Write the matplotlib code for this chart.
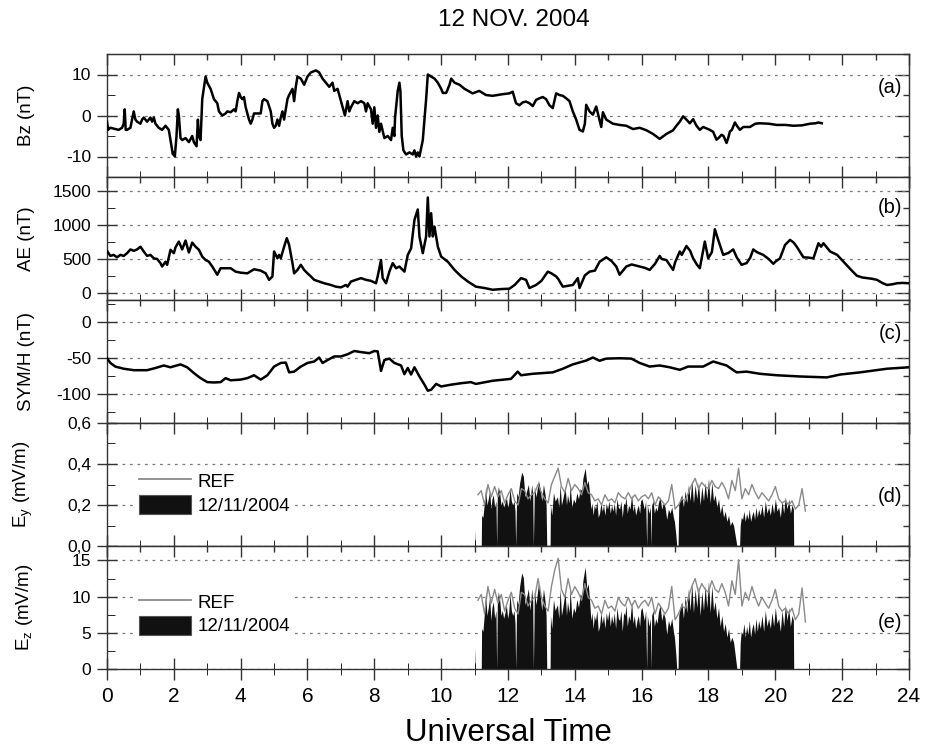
import numpy as np
import matplotlib
matplotlib.use('Agg')
import matplotlib.pyplot as plt
from matplotlib.lines import Line2D
from matplotlib.patches import Patch
from matplotlib.ticker import MultipleLocator, NullFormatter

plt.rcParams['font.family'] = ['Liberation Sans', 'DejaVu Sans']
plt.rcParams['mathtext.fontset'] = 'custom'
plt.rcParams['mathtext.rm'] = 'Liberation Sans'
plt.rcParams['axes.unicode_minus'] = False

# ---- (a) IMF Bz, nT ----
t_bz = [0.0, 0.03, 0.1, 0.2, 0.35, 0.45, 0.5, 0.53, 0.56, 0.6,
        0.7, 0.8, 0.85, 0.9, 1.0, 1.05, 1.1, 1.2, 1.3, 1.35,
        1.4, 1.45, 1.55, 1.65, 1.75, 1.85, 1.92, 1.97, 2.0, 2.03,
        2.08, 2.12, 2.15, 2.2, 2.25, 2.35, 2.45, 2.55, 2.6, 2.68,
        2.7, 2.72, 2.75, 2.8, 2.85, 2.95, 3.0, 3.1, 3.2, 3.3,
        3.35, 3.45, 3.55, 3.6, 3.7, 3.8, 3.85, 3.9, 3.95, 4.0,
        4.05, 4.1, 4.15, 4.2, 4.25, 4.3, 4.35, 4.4, 4.5, 4.6,
        4.65, 4.7, 4.8, 4.9, 4.95, 5.0, 5.05, 5.1, 5.15, 5.2,
        5.25, 5.3, 5.35, 5.4, 5.45, 5.55, 5.6, 5.65, 5.7, 5.8,
        5.9, 6.0, 6.1, 6.25, 6.35, 6.45, 6.55, 6.65, 6.75, 6.8,
        6.9, 6.95, 7.05, 7.12, 7.2, 7.25, 7.3, 7.4, 7.5, 7.6,
        7.7, 7.75, 7.8, 7.9, 7.95, 8.0, 8.05, 8.1, 8.15, 8.2,
        8.3, 8.4, 8.5, 8.55, 8.6, 8.62, 8.7, 8.75, 8.78, 8.82,
        8.87, 8.95, 9.05, 9.15, 9.2, 9.25, 9.3, 9.35, 9.45, 9.5,
        9.55, 9.6, 9.7, 9.8, 9.9, 10.0, 10.05, 10.15, 10.25, 10.3,
        10.4, 10.55, 10.7, 10.94, 11.14, 11.34, 11.54, 11.84, 12.04, 12.14,
        12.24, 12.34, 12.44, 12.54, 12.64, 12.74, 12.84, 12.94, 13.04, 13.14,
        13.24, 13.34, 13.44, 13.54, 13.64, 13.74, 13.84, 13.94, 14.04, 14.14,
        14.24, 14.30, 14.34, 14.44, 14.54, 14.64, 14.69, 14.79, 14.84, 14.94,
        15.04, 15.14, 15.34, 15.54, 15.74, 15.94, 16.14, 16.34, 16.54, 16.74,
        16.94, 17.04, 17.14, 17.24, 17.34, 17.44, 17.54, 17.64, 17.74, 17.84,
        18.04, 18.14, 18.24, 18.30, 18.39, 18.45, 18.54, 18.59, 18.64, 18.70,
        18.79, 18.85, 18.94, 19.04, 19.24, 19.40, 19.54, 19.80, 20.04, 20.30,
        20.54, 20.80, 21.04, 21.20, 21.29, 21.39]
bz = [-1.5, -3.5, -3.0, -3.2, -3.5, -3.0, -2.0, 1.5, -3.5, -3.5,
      -3.0, 1.0, -1.0, -1.5, -2.0, -1.0, -0.5, -1.5, -0.5, -1.5,
      -0.5, -2.0, -3.0, -3.5, -2.5, -3.5, -7.0, -9.5, -9.0, -10.0,
      -5.0, 1.5, 0.0, -5.5, -6.0, -5.5, -6.5, -5.0, -6.5, -7.5,
      -4.0, -1.0, -5.0, -6.0, 4.0, 9.5, 8.0, 6.5, 4.0, 3.0,
      1.0, 0.0, 0.5, 1.0, 0.8, 1.5, 1.0, 3.5, 5.5, 4.5,
      4.0, 4.5, 2.0, 0.5, -1.0, -2.0, -1.0, 0.5, 0.5, 0.5,
      3.5, 4.0, 3.5, 1.0, -2.0, -3.0, -2.5, -1.0, -2.5, -0.5,
      1.0, -1.0, 1.5, 4.0, 5.0, 6.5, 3.5, 7.0, 9.5, 9.0,
      7.5, 9.5, 10.5, 11.0, 10.5, 9.0, 8.0, 7.0, 8.0, 6.0,
      6.5, 5.0, 2.0, 0.0, 3.5, 1.0, 2.0, 3.5, 3.0, 3.5,
      3.0, 1.0, 3.0, 1.5, -2.0, 2.0, -3.0, 0.0, -4.0, -2.0,
      -5.5, -5.0, -6.0, -3.0, -5.0, -0.5, 6.0, 8.0, 6.0, -5.0,
      -8.5, -9.5, -9.0, -9.5, -8.5, -10.0, -9.0, -10.0, -6.0, -1.0,
      4.0, 10.0, 9.5, 9.0, 8.0, 6.5, 5.5, 5.5, 7.5, 9.0,
      8.0, 7.5, 6.5, 5.4, 6.0, 5.0, 4.8, 5.2, 5.4, 5.8,
      3.0, 2.5, 3.2, 3.4, 3.0, 2.3, 3.8, 4.2, 4.5, 4.0,
      2.5, 1.8, 5.4, 5.0, 4.8, 4.2, 3.5, 1.0, -1.0, -3.5,
      -3.9, -2.0, 2.6, 1.0, 0.2, 2.2, 0.5, -2.8, 0.8, -1.0,
      -1.5, -2.0, -2.3, -2.5, -3.3, -3.0, -3.6, -4.5, -5.7, -4.5,
      -3.6, -2.5, -1.5, -0.2, -1.0, -1.9, -0.9, -2.5, -3.5, -2.8,
      -3.5, -4.0, -5.9, -5.5, -4.7, -5.0, -6.7, -5.5, -3.9, -3.5,
      -1.7, -2.5, -3.5, -2.8, -2.8, -2.0, -1.9, -2.0, -2.3, -2.3,
      -2.5, -2.4, -2.0, -1.9, -1.7, -1.9]

# ---- (b) AE index, nT ----
t_ae = [0.0, 0.1, 0.2, 0.3, 0.4, 0.5, 0.6, 0.7, 0.8, 0.9,
        1.0, 1.1, 1.2, 1.3, 1.4, 1.5, 1.6, 1.65, 1.75, 1.8,
        1.9, 2.0, 2.05, 2.15, 2.25, 2.35, 2.45, 2.55, 2.65, 2.75,
        2.85, 2.95, 3.05, 3.15, 3.3, 3.4, 3.5, 3.7, 3.85, 4.0,
        4.2, 4.4, 4.6, 4.75, 4.85, 4.95, 5.0, 5.1, 5.15, 5.2,
        5.3, 5.38, 5.45, 5.55, 5.6, 5.7, 5.8, 5.9, 6.0, 6.1,
        6.2, 6.35, 6.5, 6.7, 6.85, 7.0, 7.15, 7.2, 7.3, 7.45,
        7.6, 7.75, 7.9, 8.05, 8.1, 8.2, 8.25, 8.35, 8.45, 8.55,
        8.65, 8.75, 8.9, 9.0, 9.1, 9.2, 9.3, 9.35, 9.45, 9.55,
        9.6, 9.65, 9.7, 9.75, 9.8, 9.9, 10.0, 10.2, 10.4, 10.6,
        10.8, 11.04, 11.3, 11.54, 11.8, 12.04, 12.2, 12.39, 12.54, 12.64,
        12.84, 13.0, 13.19, 13.3, 13.44, 13.5, 13.64, 13.94, 14.09, 14.14,
        14.3, 14.44, 14.6, 14.74, 14.94, 15.1, 15.24, 15.34, 15.54, 15.7,
        15.94, 16.1, 16.24, 16.4, 16.54, 16.6, 16.74, 16.94, 17.0, 17.14,
        17.2, 17.34, 17.45, 17.54, 17.65, 17.74, 17.89, 17.99, 18.1, 18.19,
        18.29, 18.44, 18.6, 18.74, 18.85, 18.99, 19.14, 19.25, 19.34, 19.45,
        19.64, 19.8, 19.94, 20.0, 20.14, 20.29, 20.44, 20.55, 20.64, 20.84,
        21.0, 21.14, 21.29, 21.37, 21.44, 21.64, 21.85, 22.04, 22.25, 22.44,
        22.6, 22.74, 22.9, 23.04, 23.2, 23.34, 23.5, 23.64, 23.8, 23.99]
ae = [620, 545, 560, 525, 560, 545, 585, 640, 620, 640,
      680, 610, 545, 560, 510, 500, 440, 390, 460, 415,
      635, 585, 670, 755, 640, 770, 595, 740, 680, 635,
      535, 485, 460, 390, 270, 365, 365, 365, 315, 300,
      290, 350, 330, 290, 195, 245, 610, 510, 560, 510,
      680, 805, 705, 440, 290, 340, 415, 340, 290, 245,
      195, 170, 145, 120, 95, 85, 120, 95, 170, 195,
      220, 195, 180, 145, 245, 485, 220, 145, 315, 440,
      365, 390, 315, 560, 655, 1070, 1225, 830, 585, 830,
      1400, 830, 1170, 830, 975, 680, 535, 460, 340, 245,
      170, 95, 75, 50, 60, 65, 120, 220, 195, 75,
      120, 180, 315, 290, 245, 210, 95, 120, 220, 75,
      260, 315, 330, 460, 525, 470, 390, 270, 390, 420,
      390, 370, 340, 430, 545, 500, 485, 340, 450, 610,
      560, 690, 620, 510, 420, 365, 755, 510, 600, 935,
      780, 560, 590, 640, 520, 415, 440, 520, 640, 600,
      560, 500, 430, 460, 510, 705, 780, 740, 680, 525,
      520, 510, 730, 680, 730, 610, 560, 460, 350, 255,
      230, 220, 210, 195, 150, 120, 130, 145, 150, 145]

# ---- (c) SYM/H, nT ----
t_sym = [0.0, 0.1, 0.25, 0.5, 0.8, 1.2, 1.45, 1.7, 1.9, 2.2,
         2.4, 2.6, 2.8, 3.0, 3.2, 3.4, 3.55, 3.7, 4.0, 4.2,
         4.4, 4.6, 4.8, 5.0, 5.2, 5.35, 5.45, 5.6, 5.8, 6.0,
         6.2, 6.35, 6.45, 6.6, 6.8, 7.0, 7.2, 7.4, 7.6, 7.85,
         8.0, 8.1, 8.2, 8.3, 8.45, 8.6, 8.8, 8.9, 9.0, 9.1,
         9.2, 9.35, 9.5, 9.6, 9.7, 9.85, 10.0, 10.3, 10.6, 10.89,
         11.04, 11.54, 12.09, 12.29, 12.39, 12.74, 13.34, 13.64, 13.94, 14.34,
         14.54, 14.74, 14.94, 15.34, 15.69, 15.94, 16.24, 16.54, 16.84, 17.14,
         17.39, 17.84, 18.14, 18.54, 18.84, 19.14, 19.54, 20.04, 20.74, 21.54,
         21.94, 22.54, 23.34, 23.99]
sym_h = [-50.5, -57, -62, -65, -67, -67, -64, -60.5, -63, -59,
         -63, -71, -78, -83.5, -84, -83.5, -78, -81, -80, -78,
         -74, -80, -74, -62, -57, -56.5, -70, -69, -62, -57,
         -55, -49.5, -57, -53, -48, -48, -45, -40.5, -42, -43.5,
         -40.5, -41, -68, -53, -51, -57, -60.5, -72.5, -64, -73,
         -63, -75.7, -87, -95.4, -94, -86, -89.5, -87, -85, -83.5,
         -86, -81.6, -79, -69, -74, -72, -70, -65, -59, -53.7,
         -49.5, -54, -51, -50.5, -51, -57, -62, -60.5, -63, -66.5,
         -62, -62, -55, -60.5, -70, -69, -72, -74, -75.7, -77,
         -73, -70, -65, -63]

# ---- (d), (e) electric field: 12/11/2004 (filled) and reference day ----
t_fill = [11.00, 11.01, 11.02, 11.20, 11.21, 11.25, 11.30, 11.33, 11.37, 11.41,
          11.45, 11.49, 11.52, 11.56, 11.60, 11.64, 11.66, 11.68, 11.71, 11.75,
          11.79, 11.83, 11.87, 11.91, 11.95, 11.99, 12.02, 12.06, 12.10, 12.14,
          12.18, 12.21, 12.23, 12.26, 12.30, 12.35, 12.41, 12.46, 12.51, 12.56,
          12.61, 12.66, 12.71, 12.74, 12.76, 12.79, 12.84, 12.91, 12.96, 13.01,
          13.06, 13.11, 13.14, 13.16, 13.26, 13.27, 13.31, 13.36, 13.41, 13.48,
          13.52, 13.56, 13.60, 13.64, 13.71, 13.75, 13.78, 13.83, 13.86, 13.91,
          13.96, 14.01, 14.06, 14.11, 14.16, 14.21, 14.24, 14.31, 14.36, 14.40,
          14.44, 14.48, 14.51, 14.55, 14.58, 14.62, 14.66, 14.70, 14.74, 14.78,
          14.82, 14.86, 14.90, 14.94, 14.98, 15.02, 15.06, 15.10, 15.14, 15.18,
          15.22, 15.26, 15.30, 15.34, 15.38, 15.42, 15.46, 15.50, 15.53, 15.57,
          15.61, 15.65, 15.70, 15.74, 15.78, 15.82, 15.86, 15.90, 15.94, 15.97,
          16.01, 16.05, 16.08, 16.12, 16.15, 16.17, 16.22, 16.26, 16.28, 16.30,
          16.34, 16.38, 16.42, 16.46, 16.50, 16.55, 16.60, 16.65, 16.70, 16.75,
          16.80, 16.85, 16.90, 16.95, 16.98, 17.02, 17.05, 17.09, 17.11, 17.15,
          17.20, 17.25, 17.30, 17.35, 17.40, 17.45, 17.50, 17.55, 17.60, 17.65,
          17.70, 17.75, 17.80, 17.85, 17.90, 17.95, 18.00, 18.05, 18.10, 18.15,
          18.20, 18.25, 18.30, 18.35, 18.40, 18.45, 18.50, 18.55, 18.60, 18.65,
          18.70, 18.75, 18.80, 18.85, 18.93, 18.95, 18.98, 19.02, 19.06, 19.10,
          19.14, 19.18, 19.22, 19.26, 19.30, 19.34, 19.38, 19.42, 19.46, 19.50,
          19.55, 19.60, 19.65, 19.70, 19.75, 19.80, 19.85, 19.90, 19.95, 20.00,
          20.05, 20.10, 20.15, 20.20, 20.25, 20.30, 20.35, 20.40, 20.45, 20.50,
          20.54, 20.55]
ey_fill = [0, 0.08, 0, 0, 0.15, 0.14, 0.22, 0.29, 0.20, 0.23,
           0.27, 0.18, 0.23, 0.25, 0.19, 0.22, 0, 0.24, 0.29, 0.26,
           0.20, 0.22, 0.19, 0.21, 0.24, 0.19, 0.21, 0.28, 0.22, 0.20,
           0.22, 0.17, 0, 0.26, 0.24, 0.31, 0.36, 0.34, 0.24, 0.27,
           0.30, 0.22, 0.30, 0.25, 0, 0.29, 0.24, 0.32, 0.28, 0.22,
           0.30, 0.25, 0.20, 0, 0, 0.20, 0.15, 0.26, 0.22, 0.24,
           0.19, 0.30, 0.20, 0.23, 0.29, 0.20, 0.25, 0.21, 0.30, 0.19,
           0.23, 0.21, 0.26, 0.23, 0.28, 0.27, 0.33, 0.38, 0.30, 0.32,
           0.26, 0.18, 0.21, 0.15, 0.20, 0.18, 0.22, 0.14, 0.16, 0.21,
           0.17, 0.20, 0.15, 0.21, 0.18, 0.22, 0.16, 0.20, 0.17, 0.21,
           0.15, 0.23, 0.19, 0.18, 0.22, 0.14, 0.21, 0.20, 0.24, 0.16,
           0.20, 0.18, 0.25, 0.17, 0.20, 0.15, 0.18, 0.20, 0.16, 0.22,
           0.23, 0.20, 0.18, 0.22, 0, 0.20, 0.16, 0.19, 0, 0.20,
           0.22, 0.16, 0.19, 0.17, 0.21, 0.24, 0.18, 0.21, 0.19, 0.13,
           0.18, 0.16, 0.19, 0.14, 0.12, 0.06, 0, 0, 0.20, 0.23,
           0.25, 0.19, 0.27, 0.21, 0.30, 0.22, 0.32, 0.21, 0.30, 0.23,
           0.31, 0.20, 0.29, 0.22, 0.31, 0.23, 0.33, 0.21, 0.31, 0.22,
           0.25, 0.19, 0.23, 0.16, 0.20, 0.14, 0.17, 0.12, 0.15, 0.10,
           0.12, 0.10, 0.05, 0, 0, 0.10, 0.14, 0.13, 0.17, 0.12,
           0.16, 0.13, 0.18, 0.12, 0.15, 0.17, 0.13, 0.19, 0.14, 0.18,
           0.15, 0.20, 0.14, 0.22, 0.16, 0.19, 0.15, 0.21, 0.16, 0.23,
           0.17, 0.19, 0.14, 0.22, 0.16, 0.24, 0.18, 0.23, 0.16, 0.20,
           0.18, 0]
ez_fill = [0, 3.0, 0, 0, 5.6, 5.2, 8.1, 10.7, 7.4, 8.5,
           10.0, 6.7, 8.5, 9.3, 7.0, 8.1, 0, 8.9, 10.7, 9.6,
           7.4, 8.1, 7.0, 7.8, 8.9, 7.0, 7.8, 10.4, 8.1, 7.4,
           8.1, 6.3, 0, 9.6, 8.9, 11.5, 13.3, 12.6, 8.9, 10.0,
           11.1, 8.1, 11.1, 9.3, 0, 10.7, 8.9, 11.8, 10.4, 8.1,
           11.1, 9.3, 7.4, 0, 0, 7.4, 5.6, 9.6, 8.1, 8.9,
           7.0, 11.1, 7.4, 8.5, 10.7, 7.4, 9.3, 7.8, 11.1, 7.0,
           8.5, 7.8, 9.6, 8.5, 10.4, 10.0, 12.2, 14.1, 11.1, 11.8,
           9.6, 6.7, 7.8, 5.6, 7.4, 6.7, 8.1, 5.2, 5.9, 7.8,
           6.3, 7.4, 5.6, 7.8, 6.7, 8.1, 5.9, 7.4, 6.3, 7.8,
           5.6, 8.5, 7.0, 6.7, 8.1, 5.2, 7.8, 7.4, 8.9, 5.9,
           7.4, 6.7, 9.3, 6.3, 7.4, 5.6, 6.7, 7.4, 5.9, 8.1,
           8.5, 7.4, 6.7, 8.1, 0, 7.4, 5.9, 7.0, 0, 7.4,
           8.1, 5.9, 7.0, 6.3, 7.8, 8.9, 6.7, 7.8, 7.0, 4.8,
           6.7, 5.9, 7.0, 5.2, 4.4, 2.2, 0, 0, 7.4, 8.5,
           9.3, 7.0, 10.0, 7.8, 11.1, 8.1, 11.8, 7.8, 11.1, 8.5,
           11.5, 7.4, 10.7, 8.1, 11.5, 8.5, 12.2, 7.8, 11.5, 8.1,
           9.3, 7.0, 8.5, 5.9, 7.4, 5.2, 6.3, 4.4, 5.6, 3.7,
           4.4, 3.7, 1.9, 0, 0, 3.7, 5.2, 4.8, 6.3, 4.4,
           5.9, 4.8, 6.7, 4.4, 5.6, 6.3, 4.8, 7.0, 5.2, 6.7,
           5.6, 7.4, 5.2, 8.1, 5.9, 7.0, 5.6, 7.8, 5.9, 8.5,
           6.3, 7.0, 5.2, 8.1, 5.9, 8.9, 6.7, 8.5, 5.9, 7.4,
           6.7, 0]

# reference-day series, 0.1 h samples from 11.1 to 20.9 UT
ey_ref = [0.25, 0.27, 0.20, 0.30, 0.24, 0.29, 0.24, 0.27, 0.21, 0.25,
          0.28, 0.22, 0.20, 0.28, 0.27, 0.23, 0.25, 0.26, 0.30, 0.26,
          0.23, 0.21, 0.30, 0.34, 0.38, 0.29, 0.26, 0.33, 0.27, 0.30,
          0.28, 0.25, 0.31, 0.26, 0.25, 0.22, 0.23, 0.20, 0.25, 0.22,
          0.23, 0.21, 0.26, 0.24, 0.23, 0.26, 0.23, 0.25, 0.22, 0.24,
          0.25, 0.23, 0.26, 0.20, 0.24, 0.22, 0.20, 0.22, 0.30, 0.18,
          0.20, 0.23, 0.22, 0.26, 0.30, 0.33, 0.28, 0.31, 0.29, 0.28,
          0.32, 0.29, 0.28, 0.31, 0.28, 0.23, 0.32, 0.27, 0.38, 0.23,
          0.28, 0.25, 0.30, 0.26, 0.23, 0.26, 0.24, 0.22, 0.25, 0.29,
          0.23, 0.21, 0.22, 0.20, 0.22, 0.18, 0.20, 0.28, 0.17]
ez_ref = [9.5, 10.3, 7.6, 11.4, 9.1, 11.0, 9.1, 10.3, 8.0, 9.5,
          10.6, 8.4, 7.6, 10.6, 10.3, 8.7, 9.5, 9.9, 12.5, 9.9,
          8.7, 8.0, 11.4, 13.7, 15.3, 11.0, 9.9, 12.5, 10.3, 11.4,
          10.6, 9.5, 11.8, 9.9, 9.5, 8.4, 8.7, 7.6, 9.5, 8.4,
          8.7, 8.0, 9.9, 9.1, 8.7, 9.9, 8.7, 9.5, 8.4, 9.1,
          9.5, 8.7, 9.9, 7.6, 9.1, 8.4, 7.6, 8.4, 11.4, 6.8,
          7.6, 8.7, 8.4, 9.9, 11.4, 12.5, 10.6, 11.8, 11.0, 10.6,
          12.2, 11.0, 10.6, 11.8, 10.6, 8.7, 12.2, 10.3, 15.1, 8.7,
          10.6, 9.5, 11.4, 9.9, 8.7, 9.9, 9.1, 8.4, 9.5, 11.0,
          8.7, 8.0, 8.4, 7.6, 8.4, 6.8, 7.6, 11.2, 6.5]
t_ref = np.linspace(11.1, 20.9, len(ey_ref))

AXIS_C = '#333333'
GRID_C = '#7a7a7a'

fig = plt.figure(figsize=(9.29, 7.5), dpi=100)
left, width, height = 107 / 929, 802 / 929, 123 / 750
bottoms = [0.764, 0.600, 0.436, 0.272, 0.108]
axes = [fig.add_axes([left, b, width, height]) for b in bottoms]


def style_panel(ax, ylim, yticks, yminor, ylabel, tag, tag_y, yticklabels=None,
                show_x=False):
    ax.set_xlim(0, 24)
    ax.set_ylim(*ylim)
    ax.set_yticks(yticks)
    if yticklabels is not None:
        ax.set_yticklabels(yticklabels)
    ax.yaxis.set_minor_locator(MultipleLocator(yminor))
    ax.xaxis.set_major_locator(MultipleLocator(2))
    ax.xaxis.set_minor_locator(MultipleLocator(1))
    for s in ax.spines.values():
        s.set_color(AXIS_C)
        s.set_linewidth(1.0)
    ax.tick_params(axis='both', colors=AXIS_C, labelcolor='black', width=1.0)
    ax.tick_params(axis='y', which='major', direction='inout', length=15,
                   labelsize=12.5, pad=4)
    ax.tick_params(axis='y', which='minor', direction='in', length=6)
    ax.tick_params(axis='x', which='major', direction='inout', length=16,
                   labelsize=15, pad=5, labelbottom=show_x)
    ax.tick_params(axis='x', which='minor', direction='inout', length=8.5)
    ax.grid(axis='y', which='major', linestyle=(0, (2.2, 3.8)), color=GRID_C,
            linewidth=0.9)
    ax.set_axisbelow(True)

    # inward ticks on the right and top edges
    ry = ax.secondary_yaxis('right')
    ry.set_yticks(yticks)
    ry.yaxis.set_minor_locator(MultipleLocator(yminor))
    ry.yaxis.set_major_formatter(NullFormatter())
    ry.spines['right'].set_color(AXIS_C)
    ry.tick_params(which='major', direction='in', length=9, width=1.0, colors=AXIS_C)
    ry.tick_params(which='minor', direction='in', length=4.5, width=1.0, colors=AXIS_C)
    tx = ax.secondary_xaxis('top')
    tx.xaxis.set_major_locator(MultipleLocator(2))
    tx.xaxis.set_minor_locator(MultipleLocator(1))
    tx.xaxis.set_major_formatter(NullFormatter())
    tx.spines['top'].set_color(AXIS_C)
    tx.tick_params(which='major', direction='in', length=8, width=1.0, colors=AXIS_C)
    tx.tick_params(which='minor', direction='in', length=4.3, width=1.0, colors=AXIS_C)

    ax.set_ylabel(ylabel, fontsize=13.5)
    ax.yaxis.set_label_coords(-0.09, 0.5)
    ax.text(0.991, tag_y, tag, transform=ax.transAxes, ha='right', va='center',
            fontsize=14.5, zorder=5,
            bbox=dict(facecolor='white', edgecolor='none', pad=0.5))


def add_legend(ax, y_anchor):
    handles = [Line2D([0], [0], color='#8a8a8a', lw=1.3),
               Patch(facecolor='#111111', edgecolor='#555555', lw=0.8)]
    ax.legend(handles, ['REF', '12/11/2004'], loc='center left',
              bbox_to_anchor=(0.037, y_anchor), fontsize=13.5, frameon=True,
              facecolor='white', edgecolor='none', framealpha=1, fancybox=False,
              handlelength=2.8, handleheight=1.2, labelspacing=0.2,
              handletextpad=0.35, borderpad=0.1, borderaxespad=0)


ax_a, ax_b, ax_c, ax_d, ax_e = axes

ax_a.plot(t_bz, bz, color='black', lw=1.8, zorder=3)
style_panel(ax_a, (-15, 15), [-10, 0, 10], 5, 'Bz (nT)', '(a)', 0.73)

ax_b.plot(t_ae, ae, color='black', lw=1.8, zorder=3)
style_panel(ax_b, (-100, 1700), [0, 500, 1000, 1500], 250, 'AE (nT)', '(b)', 0.75)

ax_c.plot(t_sym, sym_h, color='black', lw=1.8, zorder=3)
style_panel(ax_c, (-140, 30), [-100, -50, 0], 25, 'SYM/H (nT)', '(c)', 0.73)

ax_d.fill_between(t_fill, 0, ey_fill, color='#111111', lw=0, zorder=2)
ax_d.plot(t_ref, ey_ref, color='#8a8a8a', lw=1.0, zorder=3)
style_panel(ax_d, (0, 0.6), [0, 0.2, 0.4, 0.6], 0.1,
            r'E$_\mathregular{y}$ (mV/m)', '(d)', 0.40,
            yticklabels=['0,0', '0,2', '0,4', '0,6'])
add_legend(ax_d, 0.43)

ax_e.fill_between(t_fill, 0, ez_fill, color='#111111', lw=0, zorder=2)
ax_e.plot(t_ref, ez_ref, color='#8a8a8a', lw=1.0, zorder=3)
style_panel(ax_e, (0, 17), [0, 5, 10, 15], 2.5,
            r'E$_\mathregular{z}$ (mV/m)', '(e)', 0.38, show_x=True)
add_legend(ax_e, 0.45)

fig.text(514 / 929, 1 - 20 / 750, '12 NOV. 2004', ha='center', va='center',
         fontsize=17.5)
fig.text(508 / 929, 1 - 733 / 750, 'Universal Time', ha='center', va='center',
         fontsize=22.5)

fig.savefig('out.png', dpi=100, facecolor='white')
